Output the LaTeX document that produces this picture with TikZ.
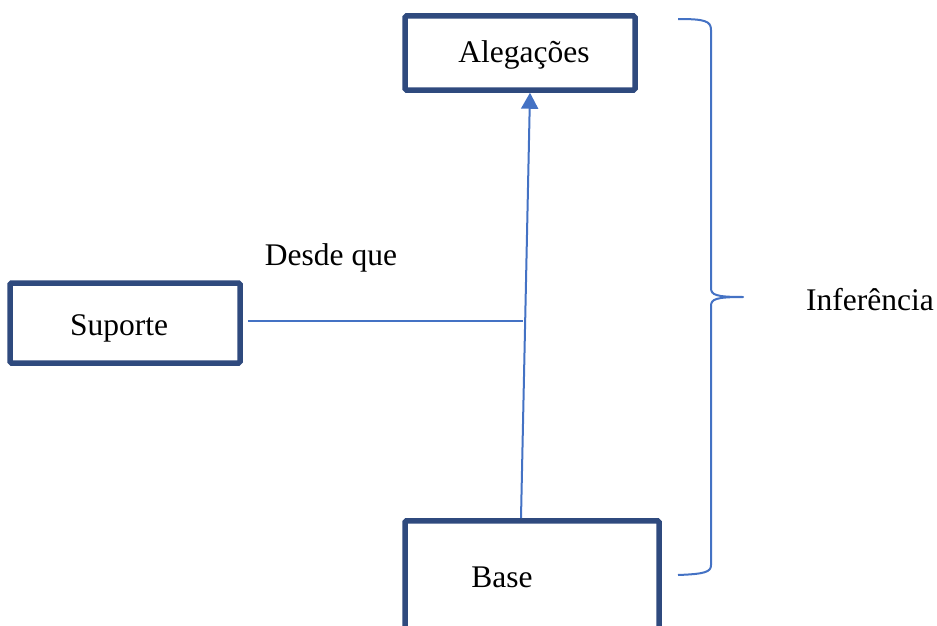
\documentclass[tikz,border=0pt]{standalone}
\usepackage{fontspec}
\setmainfont{Liberation Serif}
\usetikzlibrary{arrows.meta,calc}
\definecolor{boxblue}{HTML}{2F4A7E}
\definecolor{lineblue}{HTML}{4472C4}
\begin{document}
\begin{tikzpicture}[x=1pt,y=-1pt,
  box/.style={draw=boxblue,line width=5.5pt,rounded corners=1.5pt,inner sep=0pt,font=\fontsize{31.5}{36}\selectfont},
  lbl/.style={inner sep=0pt,font=\fontsize{31.5}{36}\selectfont},
  conn/.style={draw=lineblue,line width=2pt},
  tip/.style={-{Triangle[length=16pt,width=17pt]}}]
\useasboundingbox (0,0) rectangle (937,626);
\clip (0,0) rectangle (937,626);
\node[box,minimum width=230pt,minimum height=74pt] (aleg) at (520,53) {};
\node[lbl] (alegText) at (524,55) {Alegações};
\node[box,minimum width=230pt,minimum height=80pt] (sup) at (125,323) {};
\node[lbl] (supText) at (119,328) {Suporte};
\node[box,minimum width=254pt,minimum height=160pt,anchor=north] (base) at (532,518) {};
\node[lbl] (baseText) at (502,577) {Base};
\node[lbl] (desde) at (331,258) {Desde que};
\node[lbl] (inf) at (870,300) {Inferência};
\coordinate (aBot) at ($(base.north)+(-11,0)$);
\coordinate (aTop) at ($(aleg.south)+(10,0)$);
\coordinate (hEnd) at (523,321);
\coordinate (hStart) at ($(sup.east)+(5,-2)$);
\draw[conn,tip] (aBot) -- (aTop);
\draw[conn] (hStart) -- (hEnd);
\coordinate (brTop) at (678,19);
\coordinate (brTip) at (743,297);
\coordinate (brBot) at (678,575);
\draw[draw=lineblue,line width=2pt,line join=round]
  (brTop) .. controls (705,19) and (711,21) .. (711,30) -- (711,288)
  .. controls (711,295) and (716,297) .. (brTip)
  .. controls (716,297) and (711,299) .. (711,306) -- (711,565)
  .. controls (711,572) and (705,574) .. (brBot);
\end{tikzpicture}
\end{document}
